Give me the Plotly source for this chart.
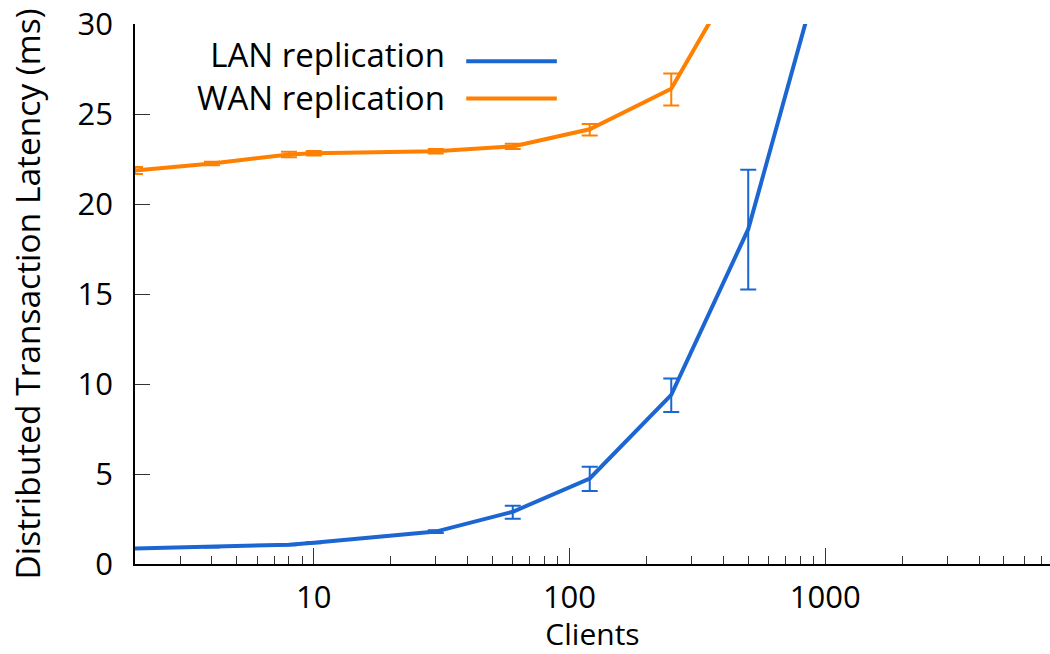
import plotly.graph_objects as go

# Client counts (log scale on the x axis)
clients = [2, 4, 8, 10, 30, 60, 120, 250, 500, 1000]
wan_clients = [2, 4, 8, 10, 30, 60, 120, 250, 500]

# Mean distributed transaction latency (ms) and error extents
lan_latency = [0.86, 0.95, 1.07, 1.18, 1.8, 2.9, 4.75, 9.4, 18.6, 34.0]
lan_err_plus = [0.03, 0.03, 0.03, 0.03, 0.08, 0.33, 0.65, 0.9, 3.3, 0.0]
lan_err_minus = [0.03, 0.03, 0.03, 0.03, 0.08, 0.39, 0.7, 0.95, 3.35, 0.0]

wan_latency = [21.86, 22.25, 22.75, 22.82, 22.93, 23.2, 24.15, 26.4, 33.8]
wan_err_plus = [0.2, 0.1, 0.15, 0.12, 0.12, 0.15, 0.3, 0.85, 0.0]
wan_err_minus = [0.2, 0.1, 0.15, 0.12, 0.12, 0.15, 0.35, 0.93, 0.0]

y_ticks = [0, 5, 10, 15, 20, 25, 30]
x_ticks = [10, 100, 1000]

BLUE = "#1c66d2"
ORANGE = "#ff8000"
FONT = "Open Sans"
TICK_FS = 31
KEY_FS = 33
YTITLE_FS = 33.5
XTITLE_FS = 30

series = [
    ("LAN replication", clients, lan_latency, lan_err_plus, lan_err_minus, BLUE),
    ("WAN replication", wan_clients, wan_latency, wan_err_plus, wan_err_minus, ORANGE),
]

fig = go.Figure()
for name, xs, ys, ep, em, color in series:
    fig.add_trace(go.Scatter(
        x=xs, y=ys, name=name, mode="lines",
        line=dict(color=color, width=4),
        error_y=dict(type="data", array=ep, arrayminus=em, symmetric=False,
                     color=color, thickness=2, width=8),
        showlegend=False,
    ))

# Key: right-aligned names on the left, line samples on the right
fig.add_annotation(xref="paper", yref="paper", x=0.341, y=0.9037,
                   text="<br>".join(s[0] for s in series), align="right",
                   showarrow=False, xanchor="right", yanchor="middle",
                   font=dict(family=FONT, size=KEY_FS, color="black"))
for ypos, s in zip([0.935, 0.866], series):
    fig.add_shape(type="line", xref="paper", yref="paper",
                  x0=0.362, x1=0.461, y0=ypos - 0.004, y1=ypos - 0.004,
                  line=dict(color=s[5], width=4))

fig.update_layout(
    width=1050, height=654,
    margin=dict(l=135, r=0, t=24, b=90),
    plot_bgcolor="white", paper_bgcolor="white",
    font=dict(family=FONT, size=TICK_FS, color="black"),
    xaxis=dict(
        type="log", range=[0.30103, 3.879],
        tickvals=x_ticks, ticktext=[str(v) for v in x_ticks],
        ticks="inside", ticklen=16, tickwidth=1, tickcolor="#333",
        minor=dict(ticks="inside", ticklen=8, tickwidth=1, tickcolor="#333",
                   dtick="D1", showgrid=False),
        showline=True, linecolor="black", linewidth=1.5,
        showgrid=False, zeroline=False,
        ticklabelstandoff=5,
        title=dict(text="Clients", standoff=9, font=dict(size=XTITLE_FS)),
        tickfont=dict(size=TICK_FS),
    ),
    yaxis=dict(
        range=[0, 30], tickvals=y_ticks,
        ticks="inside", ticklen=15, tickwidth=1, tickcolor="#333",
        showline=True, linecolor="black", linewidth=1.5,
        showgrid=False, zeroline=False,
        ticklabelstandoff=14,
        title=dict(text="Distributed Transaction Latency (ms)", standoff=27,
                   font=dict(size=YTITLE_FS)),
        tickfont=dict(size=TICK_FS),
    ),
)

fig.write_html("out.html")
